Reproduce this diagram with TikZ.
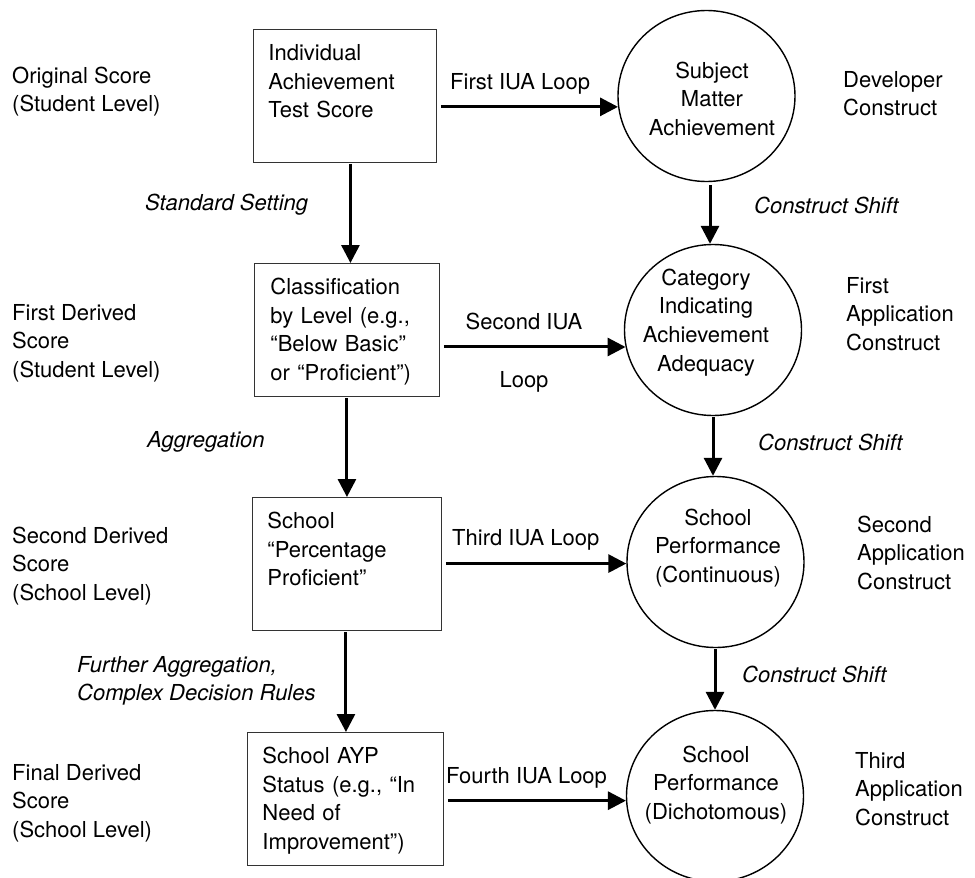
\documentclass[tikz,border=0pt]{standalone}
\usepackage{fontspec}
\setmainfont{TeX Gyre Heros}
\usetikzlibrary{arrows.meta,shapes.geometric}
\begin{document}
\begin{tikzpicture}[x=1pt,y=1pt,
  every node/.style={font=\fontsize{22}{28.7}\selectfont},
  box/.style={draw=black!80, line width=0.9pt, rectangle, anchor=north west,
    inner xsep=15pt, inner ysep=0pt, align=left, text height=31pt, text depth=102pt},
  ell/.style={draw, ellipse, line width=1.4pt, minimum width=177pt, minimum height=171pt, inner sep=0pt},
  ctext/.style={anchor=base, align=center, inner sep=0pt},
  lbl/.style={anchor=base west, align=left, inner sep=0pt},
  itl/.style={lbl, font=\fontsize{22}{28.7}\selectfont\itshape},
  arr/.style={line width=3pt, -{Triangle[length=18pt,width=18pt]}},
]
\useasboundingbox (0,0) rectangle (975,-878);

% boxes
\node[box, text width=153pt] (b1) at (253,-29) {Individual\\Achievement\\Test Score};
\node[box, inner xsep=16pt, text width=153pt] (b2) at (254,-263) {Classification\\by Level (e.g.,\\“Below Basic”\\or “Proficient”)};
\node[box, text width=159pt] (b3) at (252,-497) {School\\“Percentage\\Proficient”};
\node[box, text width=166pt] (b4) at (247,-732) {School AYP\\Status (e.g., “In\\Need of\\Improvement”)};

% circles
\node[ell] (c1) at (706.5,-96) {};
\node[ell] (c2) at (713,-330) {};
\node[ell] (c3) at (715.5,-562) {};
\node[ell] (c4) at (715,-796) {};
% (multi-line nodes: base anchor is the last line's baseline)
\node[ctext] (t1) at (712,-135.4) {Subject\\Matter\\Achievement};
\node[ctext] (t2) at (706,-371.1) {Category\\Indicating\\Achievement\\Adequacy};
\node[ctext] (t3) at (718,-582.4) {School\\Performance\\(Continuous)};
\node[ctext] (t4) at (716,-819.4) {School\\Performance\\(Dichotomous)};

% left labels
\node[lbl] (l1) at (12,-111.7) {Original Score\\(Student Level)};
\node[lbl] (l2) at (12,-377.4) {First Derived\\Score\\(Student Level)};
\node[lbl] (l3) at (12,-600.4) {Second Derived\\Score\\(School Level)};
\node[lbl] (l4) at (12,-837.4) {Final Derived\\Score\\(School Level)};

% right labels
\node[lbl] (r1) at (843,-115.7) {Developer\\Construct};
\node[lbl] (r2) at (846,-350.4) {First\\Application\\Construct};
\node[lbl] (r3) at (857,-589.4) {Second\\Application\\Construct};
\node[lbl] (r4) at (855,-825.4) {Third\\Application\\Construct};

% transition labels
\node[itl] (s1) at (145,-210) {Standard Setting};
\node[itl] (s2) at (147,-447) {Aggregation};
\node[itl] (s3) at (77,-700.7) {Further Aggregation,\\Complex Decision Rules};
\node[itl] (k1) at (754,-213) {Construct Shift};
\node[itl] (k2) at (758,-450) {Construct Shift};
\node[itl] (k3) at (742,-682) {Construct Shift};

% loop labels
\node[lbl] (i1) at (450,-89) {First IUA Loop};
\node[anchor=base, align=center, inner sep=0pt] (i2) at (524,-387) {Second IUA\\[29.3pt]Loop};
\node[lbl] (i3) at (452,-545) {Third IUA Loop};
\node[lbl] (i4) at (446,-783) {Fourth IUA Loop};

% horizontal arrows
\draw[arr] ([xshift=4pt]b1.east |- c1.187) -- (c1.187);
\draw[arr] ([xshift=4pt]b2.east |- c2.191) -- (c2.191);
\draw[arr] ([xshift=4pt]b3.east |- c3.181) -- (c3.181);
\draw[arr] ([xshift=4pt]b4.east |- c4.183) -- (c4.183);

% vertical arrows
\draw[arr] ([xshift=5.5pt,yshift=-1pt]b1.south) -- ([xshift=5.5pt]b1.south |- b2.north);
\draw[arr] ([yshift=-1pt]b2.south) -- (b2.south |- b3.north);
\draw[arr] ([xshift=-1pt,yshift=-1pt]b3.south) -- ([xshift=-1pt]b3.south |- b4.north);
\draw[arr] ([xshift=3.5pt,yshift=-3pt]c1.south) -- ([xshift=3.5pt]c1.south |- c2.north);
\draw[arr] ([yshift=-1pt]c2.south) -- (c2.south |- c3.north);
\draw[arr] ([xshift=-0.5pt,yshift=-1pt]c3.south) -- ([xshift=-0.5pt]c3.south |- c4.north);
\end{tikzpicture}
\end{document}
